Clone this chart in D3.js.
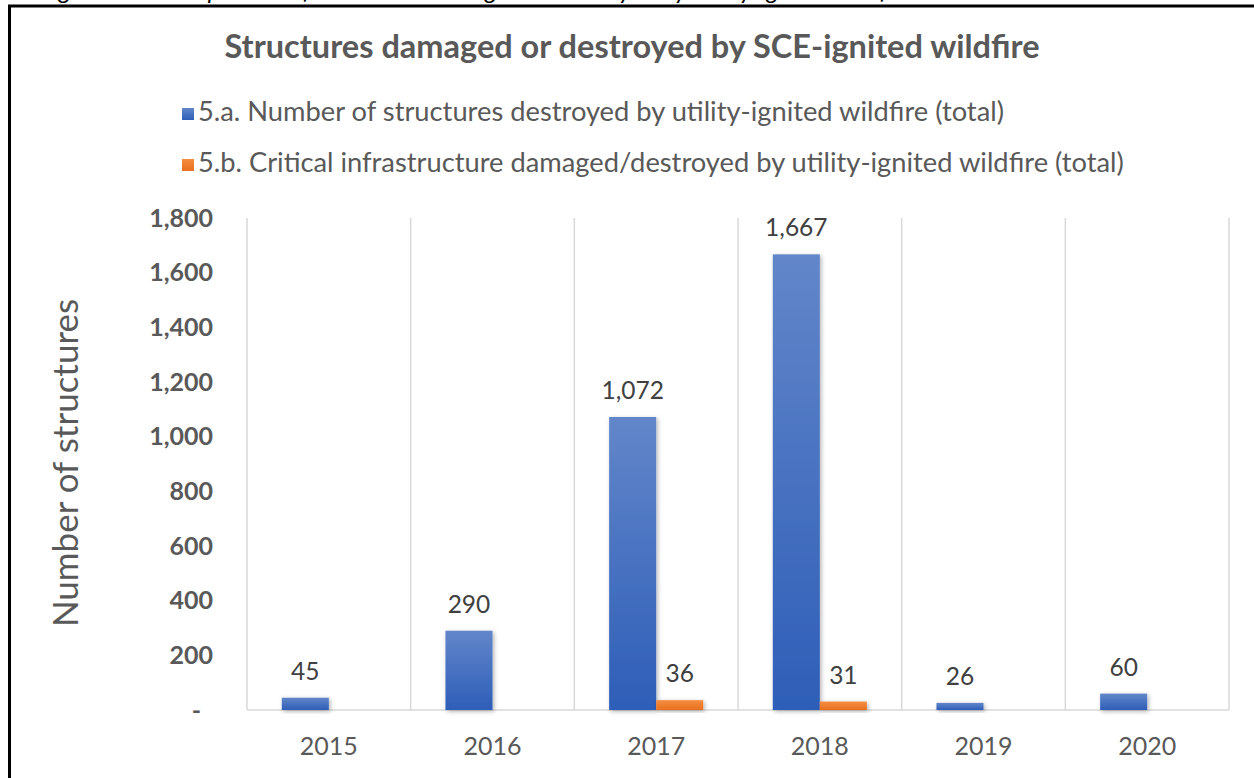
<!DOCTYPE html>
<html>
<head>
<meta charset="utf-8">
<script src="https://cdn.jsdelivr.net/npm/d3@7"></script>
<style>
  body { margin: 0; background: #fff; overflow: hidden; }
  text { font-family: Lato, "Open Sans", sans-serif; }
</style>
</head>
<body>
<div id="chart"></div>
<script>
// chart data
var years = ["2015", "2016", "2017", "2018", "2019", "2020"];
var destroyed = [45, 290, 1072, 1667, 26, 60];
var critical = [null, null, 36, 31, null, null];
var seriesNames = [
   "5.a. Number of structures destroyed by utility-ignited wildfire (total)",
   "5.b. Critical infrastructure damaged/destroyed by utility-ignited wildfire (total)"
];
var yTicks = [0, 200, 400, 600, 800, 1000, 1200, 1400, 1600, 1800];

var svgWidth = 1254;
var svgHeight = 778;

var svg = d3.select("#chart")
   .append("svg")
   .attr("width", svgWidth)
   .attr("height", svgHeight);

var defs = svg.append("defs");

// gradients for the bars
function addGradient(id, top, bottom) {
   var g = defs.append("linearGradient")
      .attr("id", id)
      .attr("x1", 0).attr("y1", 0)
      .attr("x2", 0).attr("y2", 1);
   g.append("stop").attr("offset", "0%").attr("stop-color", top);
   g.append("stop").attr("offset", "100%").attr("stop-color", bottom);
}
addGradient("blueGrad", "#6286c9", "#2e5eb8");
addGradient("orangeGrad", "#f58d42", "#e8701e");

var shadow = defs.append("filter")
   .attr("id", "shadow")
   .attr("x", "-30%").attr("y", "-30%")
   .attr("width", "160%").attr("height", "160%");
shadow.append("feDropShadow")
   .attr("dx", 1.5)
   .attr("dy", 1.5)
   .attr("stdDeviation", 2)
   .attr("flood-color", "#000")
   .attr("flood-opacity", 0.3);

// caption above the frame (cut off at the top, as in the source)
svg.append("text")
   .attr("x", 40)
   .attr("y", -1)
   .attr("font-size", 25)
   .attr("font-style", "italic")
   .attr("fill", "#000")
   .text("Figure 3-2: Comparison of structures damaged or destroyed by utility-ignited wildfire");

// black frame
svg.append("rect")
   .attr("x", 9.5)
   .attr("y", 6)
   .attr("width", 1300)
   .attr("height", 900)
   .attr("fill", "none")
   .attr("stroke", "#000")
   .attr("stroke-width", 3);

// title
svg.append("text")
   .attr("x", 632)
   .attr("y", 58)
   .attr("text-anchor", "middle")
   .attr("font-size", 32.5)
   .attr("font-weight", "bold")
   .attr("fill", "#595959")
   .text("Structures damaged or destroyed by SCE-ignited wildfire");

// legend
var legendColors = ["url(#blueGrad)", "url(#orangeGrad)"];
var legend = svg.append("g");
seriesNames.forEach(function (name, i) {
   var row = legend.append("g")
      .attr("transform", `translate(182, ${108 + i * 51})`);
   row.append("rect")
      .attr("width", 12)
      .attr("height", 12)
      .attr("fill", legendColors[i]);
   row.append("text")
      .attr("x", 16)
      .attr("y", 12.5)
      .attr("font-size", 27.3)
      .attr("fill", "#595959")
      .text(name);
});

// scales
var xScale = d3.scaleBand()
   .domain(years)
   .range([247, 1229]);

var xInner = d3.scaleBand()
   .domain(["a", "b"])
   .range([0, xScale.bandwidth()])
   .paddingInner(0)
   .paddingOuter(0.74);

var yScale = d3.scaleLinear()
   .domain([0, 1800])
   .range([710, 218]);

// vertical separators
var grid = svg.append("g");
var bounds = years.map(d => xScale(d)).concat([xScale.range()[1]]);
grid.selectAll("line")
   .data(bounds)
   .enter()
   .append("line")
   .attr("x1", d => d)
   .attr("x2", d => d)
   .attr("y1", yScale(1800))
   .attr("y2", yScale(0))
   .attr("stroke", "#d9d9d9")
   .attr("stroke-width", 1.5);

// baseline
svg.append("line")
   .attr("x1", xScale.range()[0])
   .attr("x2", xScale.range()[1])
   .attr("y1", yScale(0))
   .attr("y2", yScale(0))
   .attr("stroke", "#d9d9d9")
   .attr("stroke-width", 1.5);

// y axis
var leftAxis = d3.axisLeft(yScale)
   .tickValues(yTicks)
   .tickSize(0)
   .tickPadding(0)
   .tickFormat(d => d === 0 ? "-" : d3.format(",")(d));

var yAxis = svg.append("g")
   .attr("transform", "translate(213, 0)")
   .call(leftAxis);
yAxis.select(".domain").remove();
yAxis.selectAll("text")
   .attr("font-family", "Lato, sans-serif")
   .attr("font-size", 25)
   .attr("font-weight", "bold")
   .attr("fill", "#595959")
   .attr("dx", d => d === 0 ? -12 : 0);

// x axis
var bottomAxis = d3.axisBottom(xScale)
   .tickSize(0)
   .tickPadding(0);
var xAxis = svg.append("g")
   .attr("transform", `translate(0, ${yScale(0)})`)
   .call(bottomAxis);
xAxis.select(".domain").remove();
xAxis.selectAll("text")
   .attr("font-family", "Lato, sans-serif")
   .attr("font-size", 25)
   .attr("fill", "#595959")
   .attr("dy", null)
   .attr("y", 45);

// y axis title
svg.append("text")
   .attr("transform", "translate(78, 463) rotate(-90)")
   .attr("text-anchor", "middle")
   .attr("font-size", 35)
   .attr("fill", "#595959")
   .text("Number of structures");

// bars
var barData = [];
years.forEach(function (yr, i) {
   if (destroyed[i] != null) barData.push({ year: yr, key: "a", value: destroyed[i], fill: "url(#blueGrad)" });
   if (critical[i] != null) barData.push({ year: yr, key: "b", value: critical[i], fill: "url(#orangeGrad)" });
});

var barGroup = svg.append("g");
barGroup.selectAll("rect")
   .data(barData)
   .enter()
   .append("rect")
   .attr("x", d => xScale(d.year) + xInner(d.key))
   .attr("y", d => yScale(d.value))
   .attr("width", xInner.bandwidth())
   .attr("height", d => yScale(0) - yScale(d.value))
   .attr("fill", d => d.fill)
   .attr("filter", "url(#shadow)");

// value labels
barGroup.selectAll("text")
   .data(barData)
   .enter()
   .append("text")
   .attr("x", d => xScale(d.year) + xInner(d.key) + xInner.bandwidth() / 2)
   .attr("y", d => yScale(d.value) - 18)
   .attr("text-anchor", "middle")
   .attr("font-size", 24.5)
   .attr("fill", "#404040")
   .text(d => d3.format(",")(d.value));
</script>
</body>
</html>
